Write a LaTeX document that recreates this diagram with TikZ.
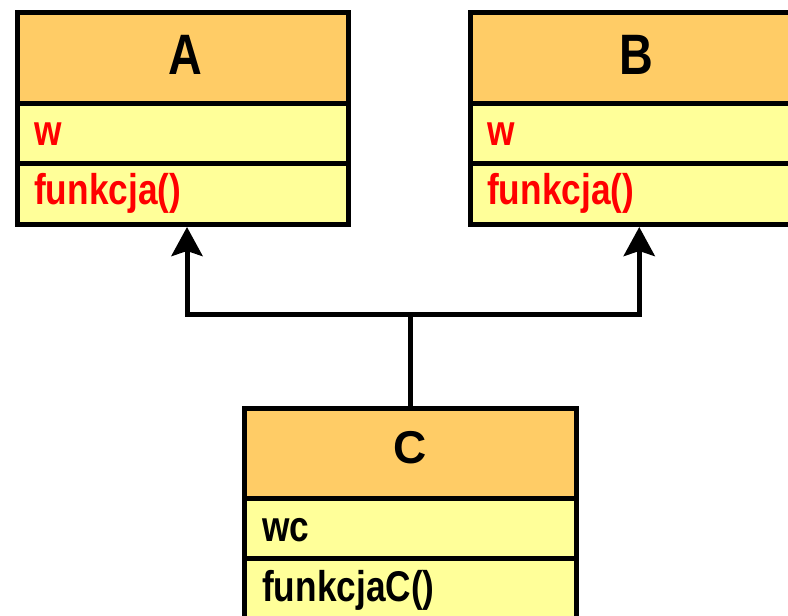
\documentclass[tikz,border=0pt]{standalone}
\usepackage{fontspec}
\setmainfont{Liberation Sans}
\newfontfamily\narrowbf{Liberation Sans}[FakeStretch=0.82]
\usetikzlibrary{arrows.meta}
\definecolor{hdr}{HTML}{FFCC66}
\definecolor{rowc}{HTML}{FFFF99}
\definecolor{redtxt}{HTML}{FF0000}
\tikzset{
  boxpart/.style={draw=black, line width=5pt, inner sep=0pt, minimum width=330.5pt},
  hdrbox/.style={boxpart, fill=hdr, minimum height=90.5pt},
  attrbox/.style={boxpart, fill=rowc, minimum height=60.5pt},
  methbox/.style={boxpart, fill=rowc, minimum height=61pt},
  titletxt/.style={anchor=base, inner sep=0pt, font=\narrowbf\bfseries\fontsize{57}{60}\selectfont},
  rowtxt/.style={anchor=base west, inner sep=0pt, font=\narrowbf\bfseries\fontsize{43}{46}\selectfont},
  conn/.style={line width=5pt, draw=black},
  arr/.style={conn, -{Stealth[length=29pt, width=31pt, inset=5pt]}}
}
\begin{document}
\begin{tikzpicture}[x=1pt, y=-1pt]
\path[fill=white, use as bounding box] (0,0) rectangle (788,616);

% Class A
\node[hdrbox]  (Ah) at (182.75,57.75) {};
\node[attrbox] (Aw) at (182.75,133.25) {};
\node[methbox] (Af) at (182.75,194) {};
\node[titletxt] (At) at (185,74) {A};
\node[rowtxt, text=redtxt] (Awt) at (34,145) {w};
\node[rowtxt, text=redtxt] (Aft) at (34,204) {funkcja()};

% Class B
\node[hdrbox]  (Bh) at (635.25,57.75) {};
\node[attrbox] (Bw) at (635.25,133.25) {};
\node[methbox] (Bf) at (635.25,194) {};
\node[titletxt] (Bt) at (636.5,74) {B};
\node[rowtxt, text=redtxt] (Bwt) at (487,145) {w};
\node[rowtxt, text=redtxt] (Bft) at (487,204) {funkcja()};

% Class C
\node[boxpart, fill=hdr, minimum width=332pt, minimum height=90pt]  (Ch) at (410,453.5) {};
\node[boxpart, fill=rowc, minimum width=332pt, minimum height=60pt] (Cw) at (410,528.5) {};
\node[boxpart, fill=rowc, minimum width=332pt, minimum height=60.5pt] (Cf) at (410,588.75) {};
\node[anchor=base, inner sep=0pt, font=\bfseries\fontsize{46}{50}\selectfont] (Ct) at (410,463) {C};
\node[rowtxt] (Cwt) at (262,541) {wc};
\node[rowtxt] (Cft) at (262,601) {funkcjaC()};

% Inheritance connectors
\coordinate (j) at (410,314);
\draw[conn] (Ch.north) -- (j);
\draw[arr] (j) -| ([xshift=4.25pt]Af.south);
\draw[arr] (j) -| ([xshift=4pt]Bf.south);
\end{tikzpicture}
\end{document}
